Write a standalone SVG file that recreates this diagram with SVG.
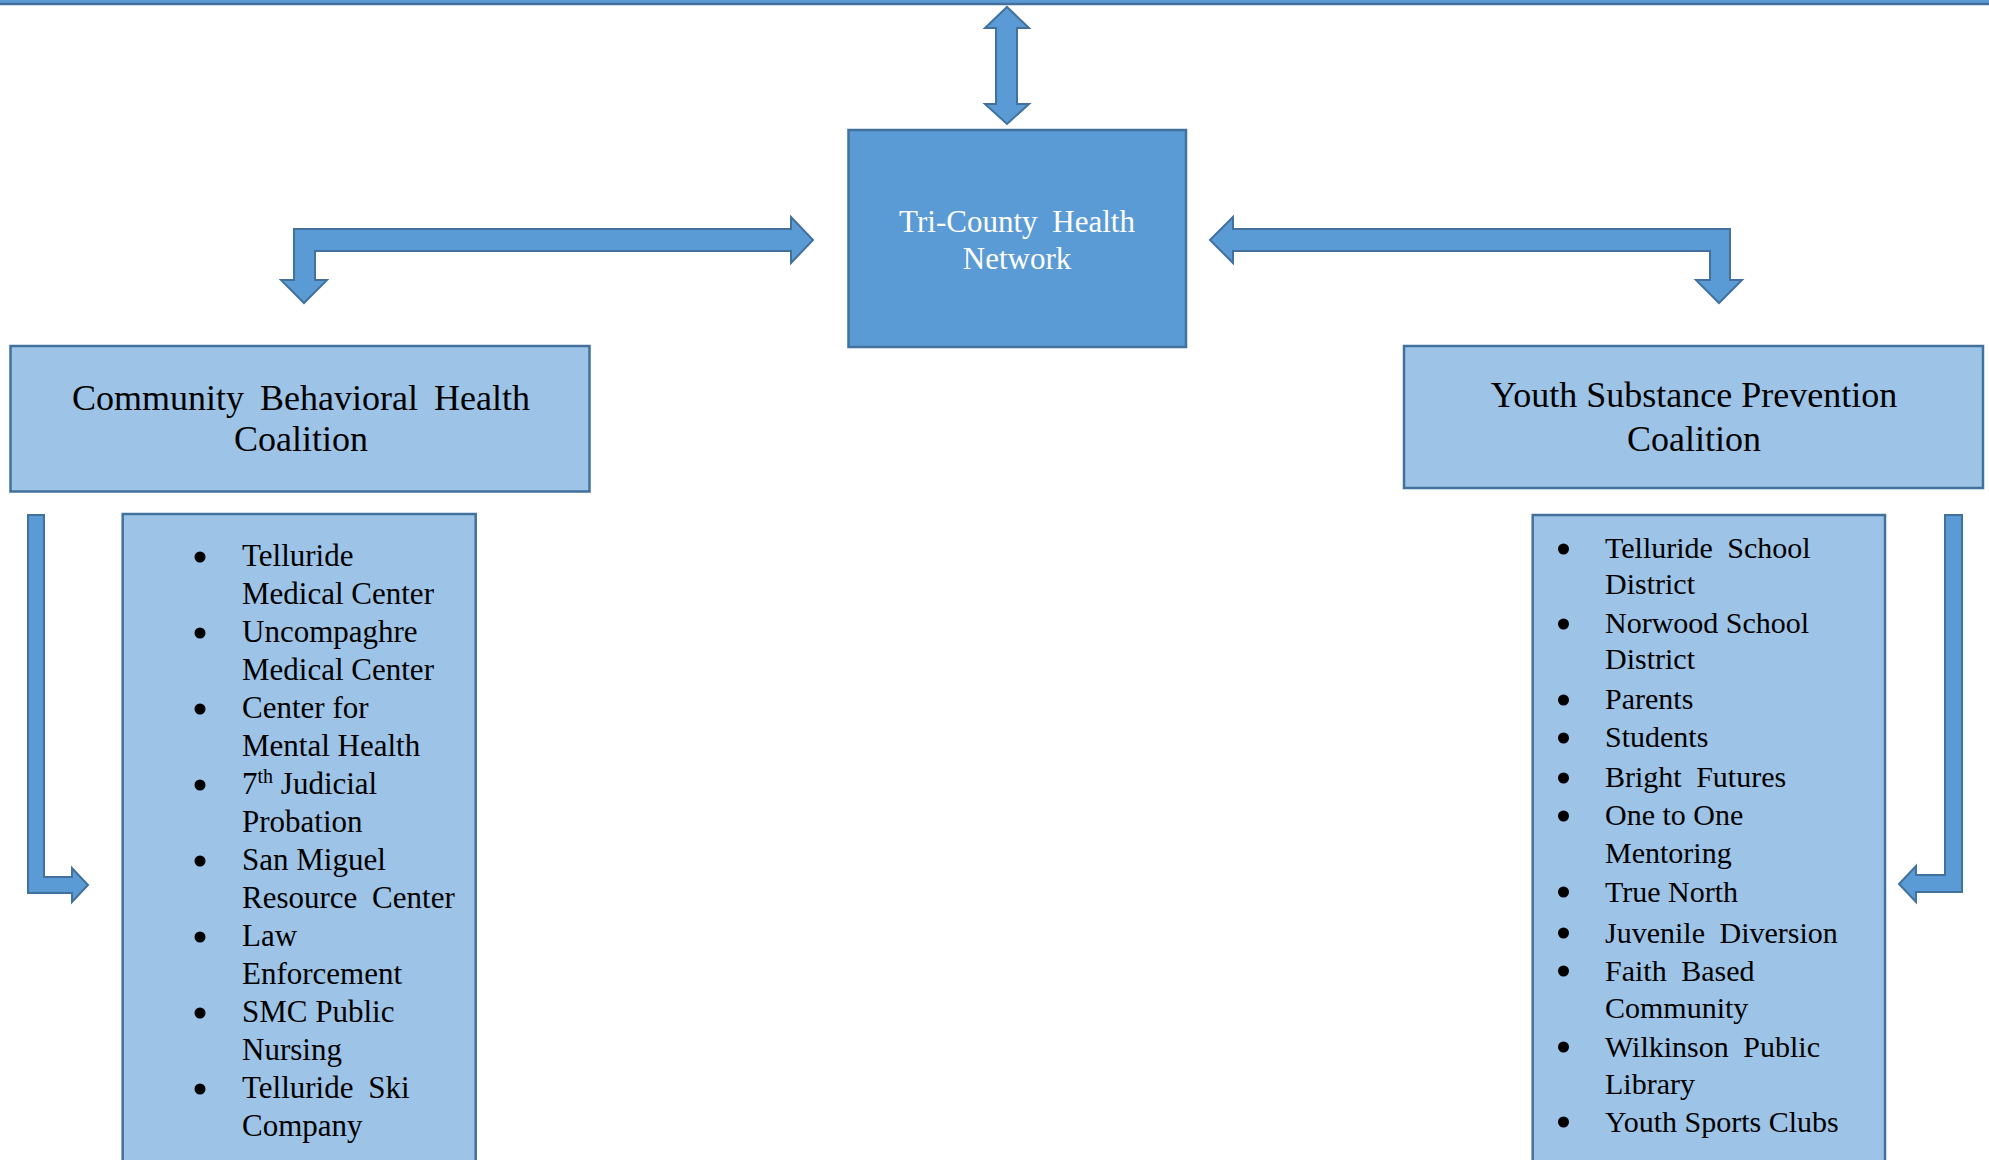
<svg xmlns="http://www.w3.org/2000/svg" width="1989" height="1160" viewBox="0 0 1989 1160">
<style>
.dark{fill:#5b9bd5;stroke:#41719c;stroke-width:2.5}
.light{fill:#9dc3e6;stroke:#41719c;stroke-width:2.5}
.arrow{fill:#5b9bd5;stroke:#41719c;stroke-width:2}
text{font-family:"Liberation Serif","Times New Roman",serif;fill:#000}
.title{font-size:36px;text-anchor:middle}
.white{fill:#fff;font-size:31px;text-anchor:middle}
.l{font-size:31px}
.r{font-size:30px}
.w{word-spacing:7px}
.b{fill:#000;stroke:none}
</style>
<rect width="1989" height="1160" fill="#fff"/>
<g id="connectors">
<rect class="dark" x="-10" y="-10" width="2009" height="14"/>
<polygon class="arrow" points="1007,7 1029,28 1017,28 1017,104 1029,104 1007,124 985,104 996,104 996,28 985,28"/>
<polygon class="arrow" points="294,229 791,229 791,217 813,240 791,263 791,251 315,251 315,280 327,280 304,303 281,280 294,280"/>
<polygon class="arrow" points="1210,240 1233,217 1233,229 1730,229 1730,280 1742,280 1719,303 1696,280 1710,280 1710,251 1233,251 1233,263"/>
<polygon class="arrow" points="28,515 44,515 44,877 72,877 72,868 88,885 72,902 72,893 28,893"/>
<polygon class="arrow" points="1945,515 1962,515 1962,875 1962,892 1916,892 1916,902 1899,884 1916,866 1916,875 1945,875"/>
</g>
<g id="tri-county">
<rect class="dark" x="848.5" y="130" width="337.5" height="217"/>
<text class="white w" x="1017" y="232">Tri-County Health</text>
<text class="white" x="1017" y="269">Network</text>
</g>
<g id="cbhc">
<rect class="light" x="10.5" y="346" width="579" height="145.5"/>
<text class="title w" x="301" y="410">Community Behavioral Health</text>
<text class="title" x="301" y="451">Coalition</text>
</g>
<g id="yspc">
<rect class="light" x="1404" y="346" width="579" height="142"/>
<text class="title" x="1694" y="407">Youth Substance Prevention</text>
<text class="title" x="1694" y="451">Coalition</text>
</g>
<g id="cbhc-members">
<rect class="light" x="122.7" y="514" width="353" height="700"/>
<g class="b">
<circle cx="200" cy="557" r="5.5"/>
<circle cx="200" cy="633" r="5.5"/>
<circle cx="200" cy="709" r="5.5"/>
<circle cx="200" cy="785" r="5.5"/>
<circle cx="200" cy="861" r="5.5"/>
<circle cx="200" cy="937" r="5.5"/>
<circle cx="200" cy="1013" r="5.5"/>
<circle cx="200" cy="1089" r="5.5"/>
</g>
<text class="l" x="242" y="566">Telluride</text>
<text class="l" x="242" y="604">Medical Center</text>
<text class="l" x="242" y="642">Uncompaghre</text>
<text class="l" x="242" y="680">Medical Center</text>
<text class="l" x="242" y="718">Center for</text>
<text class="l" x="242" y="756">Mental Health</text>
<text class="l" x="242" y="794">7<tspan font-size="20" dy="-11">th</tspan><tspan dy="11"> Judicial</tspan></text>
<text class="l" x="242" y="832">Probation</text>
<text class="l" x="242" y="870">San Miguel</text>
<text class="l w" x="242" y="908">Resource Center</text>
<text class="l" x="242" y="946">Law</text>
<text class="l" x="242" y="984">Enforcement</text>
<text class="l" x="242" y="1022">SMC Public</text>
<text class="l" x="242" y="1060">Nursing</text>
<text class="l w" x="242" y="1098">Telluride Ski</text>
<text class="l" x="242" y="1136">Company</text>
</g>
<g id="yspc-members">
<rect class="light" x="1532.7" y="515" width="352.3" height="700"/>
<g class="b">
<circle cx="1563.5" cy="549" r="5.5"/>
<circle cx="1563.5" cy="624" r="5.5"/>
<circle cx="1563.5" cy="700" r="5.5"/>
<circle cx="1563.5" cy="738" r="5.5"/>
<circle cx="1563.5" cy="778" r="5.5"/>
<circle cx="1563.5" cy="816" r="5.5"/>
<circle cx="1563.5" cy="892" r="5.5"/>
<circle cx="1563.5" cy="933" r="5.5"/>
<circle cx="1563.5" cy="971" r="5.5"/>
<circle cx="1563.5" cy="1047" r="5.5"/>
<circle cx="1563.5" cy="1122" r="5.5"/>
</g>
<text class="r w" x="1605" y="558">Telluride School</text>
<text class="r" x="1605" y="594">District</text>
<text class="r" x="1605" y="633">Norwood School</text>
<text class="r" x="1605" y="669">District</text>
<text class="r" x="1605" y="709">Parents</text>
<text class="r" x="1605" y="747">Students</text>
<text class="r w" x="1605" y="787">Bright Futures</text>
<text class="r" x="1605" y="825">One to One</text>
<text class="r" x="1605" y="863">Mentoring</text>
<text class="r" x="1605" y="902">True North</text>
<text class="r w" x="1605" y="943">Juvenile Diversion</text>
<text class="r w" x="1605" y="981">Faith Based</text>
<text class="r" x="1605" y="1018">Community</text>
<text class="r w" x="1605" y="1057">Wilkinson Public</text>
<text class="r" x="1605" y="1094">Library</text>
<text class="r" x="1605" y="1132">Youth Sports Clubs</text>
</g>
</svg>
